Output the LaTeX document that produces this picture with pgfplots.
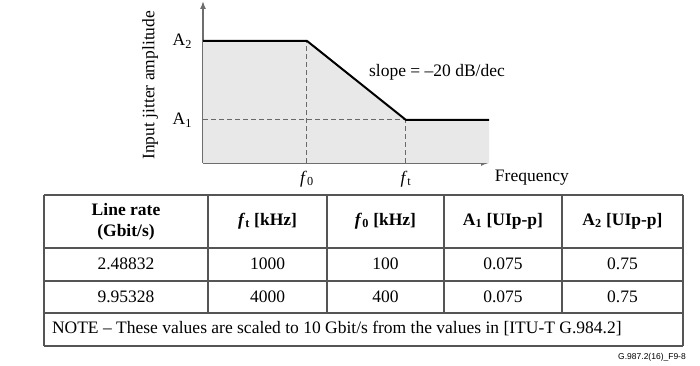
\documentclass[border=0pt]{standalone}
\usepackage{pgfplots}
\pgfplotsset{compat=1.18}
\usepackage{fontspec}
\setmainfont{Liberation Serif}
\newfontfamily\arialfont{Liberation Sans}
\usetikzlibrary{arrows.meta}
\definecolor{fillgray}{RGB}{232,232,232}
\definecolor{axgray}{RGB}{110,110,110}
\definecolor{dashgray}{RGB}{105,105,105}
\definecolor{tabgray}{RGB}{85,85,85}
\begin{document}
\fontsize{17.5}{20.5}\selectfont
\begin{tikzpicture}[x=1pt,y=1pt]
\useasboundingbox (0,0) rectangle (700,366);
\begin{axis}[
  at={(203pt,203pt)}, anchor=south west,
  scale only axis, width=286pt, height=162pt,
  xmode=log, ymode=log,
  xmin=8.903, xmax=6900, ymin=0.02142, ymax=2.4,
  axis lines=left,
  axis line style={-{Latex[length=8pt,width=6pt]}, draw=axgray, line width=1.5pt},
  xtick={100,1000}, xticklabels={\textit{f}\textsubscript{0},\textit{f}\textsubscript{t}},
  ytick={0.075,0.75}, yticklabels={A\textsubscript{1},A\textsubscript{2}},
  major tick length=0pt, minor tick num=0,
  xminorticks=false, yminorticks=false,
  xticklabel style={yshift=-2pt},
  yticklabel style={xshift=-5pt},
  ylabel={Input jitter amplitude},
  ylabel style={at={(axis description cs:-0.185,0.48)}, anchor=center},
  xlabel={Frequency},
  xlabel style={at={(axis description cs:1.15,-0.093)}, anchor=center},
  clip=false,
]
\addplot[fill=fillgray, draw=none] coordinates {(8.903,0.02142) (8.903,0.75) (100,0.75) (1000,0.075) (6900,0.075) (6900,0.02142)} -- cycle;
\addplot[dashgray, line width=1pt, dash pattern=on 5pt off 3pt] coordinates {(8.903,0.075) (1000,0.075)};
\addplot[dashgray, line width=1pt, dash pattern=on 5pt off 3pt] coordinates {(100,0.02142) (100,0.75)};
\addplot[dashgray, line width=1pt, dash pattern=on 5pt off 3pt] coordinates {(1000,0.02142) (1000,0.075)};
\addplot[black, line width=2pt] coordinates {(8.903,0.75) (100,0.75) (1000,0.075) (6900,0.075)};
\node at (axis description cs:0.818,0.562) {slope = –20 dB/dec};
\end{axis}
% table
\begin{scope}[draw=tabgray, line width=1.3pt]
\draw (44,171) -- (683,171);
\draw (44,118) -- (683,118);
\draw (44,85) -- (683,85);
\draw (44,53) -- (683,53);
\draw (44,20) -- (683,20);
\draw (44,171) -- (44,20);
\draw (683,171) -- (683,20);
\foreach \xx in {208,327,444,562} \draw (\xx,171) -- (\xx,53);
\end{scope}
\node[align=center, font=\bfseries] at (126,144) {Line rate\\(Gbit/s)};
\node[font=\bfseries] at (267.5,145) {\textit{f}\textsubscript{t} [kHz]};
\node[font=\bfseries] at (385.5,145) {\textit{f}\textsubscript{0} [kHz]};
\node[font=\bfseries] at (503,145) {A\textsubscript{1} [UIp-p]};
\node[font=\bfseries] at (622.5,145) {A\textsubscript{2} [UIp-p]};
\node at (126,102) {2.48832};
\node at (267.5,102) {1000};
\node at (385.5,102) {100};
\node at (503,102) {0.075};
\node at (622.5,102) {0.75};
\node at (126,69) {9.95328};
\node at (267.5,69) {4000};
\node at (385.5,69) {400};
\node at (503,69) {0.075};
\node at (622.5,69) {0.75};
\node[anchor=west] at (46,37) {NOTE – These values are scaled to 10 Gbit/s from the values in [ITU-T G.984.2]};
\node[anchor=east, font=\arialfont\fontsize{8.5}{10}\selectfont, inner sep=0pt] at (686,9) {G.987.2(16)\_F9-8};
\end{tikzpicture}
\end{document}
